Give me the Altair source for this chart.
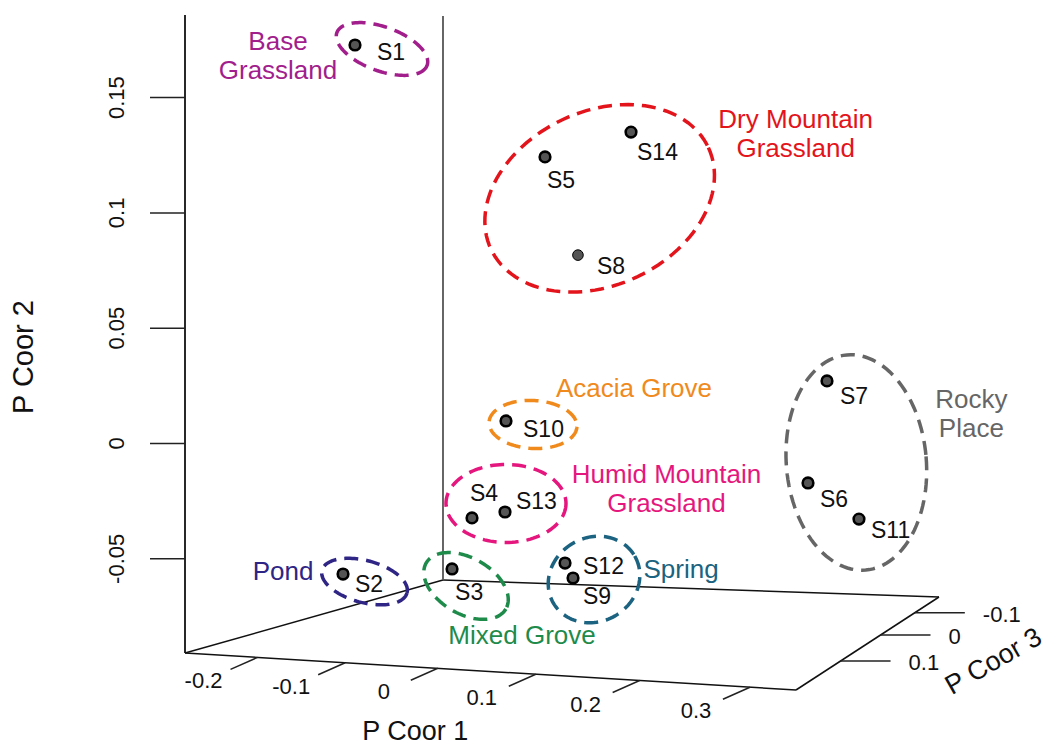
import numpy as np
import pandas as pd
import altair as alt

# ---------------- data ----------------
samples = ["S1", "S2", "S3", "S4", "S5", "S6", "S7", "S8", "S9", "S10", "S11", "S12", "S13", "S14"]
sample_group = ["Base Grassland", "Pond", "Mixed Grove", "Humid Mountain Grassland",
                "Dry Mountain Grassland", "Rocky Place", "Rocky Place", "Dry Mountain Grassland",
                "Spring", "Acacia Grove", "Rocky Place", "Spring", "Humid Mountain Grassland",
                "Dry Mountain Grassland"]
p_coor1 = [-0.2163, -0.1870, -0.1738, -0.0955, -0.0424, 0.3013, 0.2620, -0.0604,
           -0.0022, -0.0689, 0.3034, -0.0509, -0.0987, 0.0183]
p_coor2 = [0.1708, -0.0638, -0.0741, -0.0442, 0.1170, -0.0195, 0.0144, 0.0693,
           -0.0734, -0.0016, -0.0448, -0.0722, -0.0461, 0.1266]
p_coor3 = [0.05, 0.10, -0.05, 0.02, -0.03, 0.08, -0.06, -0.12,
           -0.02, 0.00, -0.04, -0.08, -0.04, -0.10]

group_names = ["Base Grassland", "Dry Mountain Grassland", "Acacia Grove",
               "Humid Mountain Grassland", "Mixed Grove", "Spring", "Pond", "Rocky Place"]
group_text = ["Base\nGrassland", "Dry Mountain\nGrassland", "Acacia Grove",
              "Humid Mountain\nGrassland", "Mixed Grove", "Spring", "Pond", "Rocky\nPlace"]
group_colors = ["#A21E8C", "#E3141B", "#F08A1D", "#E5177E", "#1E8B4B", "#1B6380", "#2E2585", "#666666"]

ticks_p1 = [-0.2, -0.1, 0.0, 0.1, 0.2, 0.3]
ticks_p2 = [-0.05, 0.0, 0.05, 0.1, 0.15]
ticks_p3 = [-0.1, 0.0, 0.1]

# ---------------- 3-D box and view (projection) ----------------
X1_RANGE = (-0.287, 0.340)      # P Coor 1: left -> right
X2_RANGE = (-0.09085, 0.1858)   # P Coor 2: floor -> top
X3_RANGE = (0.195, -0.180)      # P Coor 3: front -> back
VIEW = dict(a=480.43, b=381.66, c=185.0, d=-76.18, e=88.91, f=653.0,
            g=-0.16403, h=0.27915, k=2306.0)


def project(p1, p2, p3):
    p1 = np.asarray(p1, float)
    p2 = np.asarray(p2, float)
    p3 = np.asarray(p3, float)
    s = (p1 - X1_RANGE[0]) / (X1_RANGE[1] - X1_RANGE[0])
    t = (X3_RANGE[0] - p3) / (X3_RANGE[0] - X3_RANGE[1])
    w = 1 + VIEW["g"] * s + VIEW["h"] * t
    u = (VIEW["a"] * s + VIEW["b"] * t + VIEW["c"]) / w
    vf = (VIEW["d"] * s + VIEW["e"] * t + VIEW["f"]) / w
    v = vf - VIEW["k"] * (p2 - X2_RANGE[0]) / np.sqrt(w)
    return u, v


FONT = "Liberation Sans"

# label placement (pixel offsets from the projected point)
LABEL_OFFSET = {"S1": (22, 8), "S2": (12, 11), "S3": (3, 24), "S4": (-2, -24), "S5": (2, 24),
                "S6": (12, 17), "S7": (13, 16), "S8": (19, 12), "S9": (10, 19), "S10": (17, 9),
                "S11": (12, 12), "S12": (18, 4), "S13": (11, -10), "S14": (6, 21)}
# group annotation styling: label offset (first line) from group centroid, ellipse offset / radii / tilt
GROUP_STYLE = {
    "Base Grassland": dict(lab=(-77, -3), ell=(27, 4, 48, 22, 20)),
    "Dry Mountain Grassland": dict(lab=(211, -61), ell=(15, 17, 120, 87, -25)),
    "Acacia Grove": dict(lab=(128, -32), ell=(27, 3.5, 44, 24, 3)),
    "Humid Mountain Grassland": dict(lab=(178, -40), ell=(17.5, -11.5, 60, 39, 0)),
    "Mixed Grove": dict(lab=(70, 67), ell=(14, 17, 46, 28, 30)),
    "Spring": dict(lab=(112, -1), ell=(25, 9, 47, 42, -30)),
    "Pond": dict(lab=(-60, -2), ell=(21.5, 7.5, 44, 21, 15)),
    "Rocky Place": dict(lab=(140, -61), ell=(25, 1.5, 70, 108, -5)),
}

# ---------------- tables ----------------
pts = pd.DataFrame({"sample": samples, "group": sample_group,
                    "p1": p_coor1, "p2": p_coor2, "p3": p_coor3})
pts["u"], pts["v"] = project(pts.p1, pts.p2, pts.p3)
pts["lu"] = [u + LABEL_OFFSET[s][0] for u, s in zip(pts.u, pts["sample"])]
pts["lv"] = [v + LABEL_OFFSET[s][1] for v, s in zip(pts.v, pts["sample"])]

cent = pts.groupby("group")[["u", "v"]].mean()
glab_rows, ell_rows = [], []
for g, txt in zip(group_names, group_text):
    cu, cv = cent.loc[g, "u"], cent.loc[g, "v"]
    st = GROUP_STYLE[g]
    glab_rows.append({"group": g, "text": txt, "u": cu + st["lab"][0], "v": cv + st["lab"][1]})
    ox, oy, rx, ry, ang = st["ell"]
    th = np.radians(ang)
    for i in range(121):
        ph = 2 * np.pi * i / 120
        ell_rows.append({"group": g, "idx": i,
                         "u": cu + ox + rx * np.cos(ph) * np.cos(th) - ry * np.sin(ph) * np.sin(th),
                         "v": cv + oy + rx * np.cos(ph) * np.sin(th) + ry * np.sin(ph) * np.cos(th)})
glab = pd.DataFrame(glab_rows)
ell = pd.DataFrame(ell_rows)

# frame of the box
a1, b1 = X1_RANGE
a2, b2 = X2_RANGE
f3, k3 = X3_RANGE
segs = [((a1, a2, f3), (b1, a2, f3), "#111111", 1.5),
        ((b1, a2, f3), (b1, a2, k3), "#111111", 1.5),
        ((a1, a2, k3), (b1, a2, k3), "#111111", 1.5),
        ((a1, a2, f3), (a1, a2, k3), "#111111", 1.5),
        ((a1, a2, f3), (a1, b2, f3), "#111111", 1.8),
        ((a1, a2, k3), (a1, b2, k3), "#555555", 1.8)]
frame_rows = []
for p, q, col, sw in segs:
    u1, v1 = project(*p)
    u2, v2 = project(*q)
    frame_rows.append({"u": float(u1), "v": float(v1), "u2": float(u2), "v2": float(v2), "col": col, "sw": sw})
frame = pd.DataFrame(frame_rows)

# axis ticks
t1u, t1v = project(ticks_p1, [a2] * len(ticks_p1), [f3] * len(ticks_p1))
tick1 = pd.DataFrame({"u": t1u, "v": t1v, "u2": t1u - 27, "v2": t1v + 12,
                      "lu": t1u - 54, "lv": t1v + 24, "text": [f"{x:g}" for x in ticks_p1]})
t2u, t2v = project([a1] * len(ticks_p2), ticks_p2, [f3] * len(ticks_p2))
tick2 = pd.DataFrame({"u": t2u, "v": t2v, "u2": t2u - 35, "v2": t2v,
                      "lu": t2u - 68, "lv": t2v, "text": [f"{x:g}" for x in ticks_p2]})
t3u, t3v = project([b1] * len(ticks_p3), [a2] * len(ticks_p3), ticks_p3)
tick3 = pd.DataFrame({"u": t3u, "v": t3v, "u2": t3u + 50, "v2": t3v,
                      "lu": t3u + 68, "lv": t3v + 2, "text": [f"{x:g}" for x in ticks_p3]})
ticks = pd.concat([tick1, tick2, tick3], ignore_index=True)

# axis titles anchored on the box edges
m1 = project((a1 + b1) / 2, a2, f3)
m2 = project(a1, (a2 + b2) / 2, f3)
m3 = project(b1, a2, (f3 + k3) / 2)
title1 = pd.DataFrame({"u": [float(m1[0]) - 48], "v": [float(m1[1]) + 62], "text": ["P Coor 1"]})
title2 = pd.DataFrame({"u": [float(m2[0]) - 161], "v": [float(m2[1]) + 23], "text": ["P Coor 2"]})
title3 = pd.DataFrame({"u": [float(m3[0]) + 116], "v": [float(m3[1]) + 25], "text": ["P Coor 3"]})

# ---------------- chart ----------------
XS = alt.Scale(domain=[8, 1051], nice=False, zero=False)
YS = alt.Scale(domain=[745, 8], nice=False, zero=False)


def X(f):
    return alt.X(f"{f}:Q", scale=XS, axis=None)


def Y(f):
    return alt.Y(f"{f}:Q", scale=YS, axis=None)


gcolor = alt.Color("group:N", scale=alt.Scale(domain=group_names, range=group_colors), legend=None)

frame_layer = alt.Chart(frame).mark_rule().encode(
    x=X("u"), y=Y("v"), x2="u2", y2="v2",
    color=alt.Color("col:N", scale=None), strokeWidth=alt.StrokeWidth("sw:Q", scale=None))
tick_layer = alt.Chart(ticks).mark_rule(color="#222222", strokeWidth=1.5).encode(
    x=X("u"), y=Y("v"), x2="u2", y2="v2")
lab1 = alt.Chart(tick1).mark_text(font=FONT, fontSize=22, align="center", baseline="middle", color="#111111").encode(
    x=X("lu"), y=Y("lv"), text="text:N")
lab2 = alt.Chart(tick2).mark_text(font=FONT, fontSize=22, align="center", baseline="middle", angle=270,
                                  color="#111111").encode(x=X("lu"), y=Y("lv"), text="text:N")
lab3 = alt.Chart(tick3).mark_text(font=FONT, fontSize=22, align="left", baseline="middle", color="#111111").encode(
    x=X("lu"), y=Y("lv"), text="text:N")
ttl1 = alt.Chart(title1).mark_text(font=FONT, fontSize=27, align="center", baseline="middle", color="#111111").encode(
    x=X("u"), y=Y("v"), text="text:N")
ttl2 = alt.Chart(title2).mark_text(font=FONT, fontSize=29, align="center", baseline="middle", angle=270,
                                  color="#111111").encode(x=X("u"), y=Y("v"), text="text:N")
ttl3 = alt.Chart(title3).mark_text(font=FONT, fontSize=27, align="center", baseline="middle", angle=330,
                                  color="#111111").encode(x=X("u"), y=Y("v"), text="text:N")

ell_layer = alt.Chart(ell).mark_line(strokeDash=[14, 8], strokeWidth=3.5, strokeCap="butt").encode(
    x=X("u"), y=Y("v"), detail="group:N", order="idx:Q", color=gcolor)

point_layer = alt.Chart(pts).mark_circle(size=113, fill="#555555", stroke="black", opacity=1).encode(
    x=X("u"), y=Y("v"),
    strokeWidth=alt.condition(alt.datum.sample == "S8", alt.value(1), alt.value(2.6)))
plabel_layer = alt.Chart(pts).mark_text(font=FONT, fontSize=23, align="left", baseline="middle",
                                        color="#111111").encode(x=X("lu"), y=Y("lv"), text="sample:N")
glabel_layer = alt.Chart(glab).mark_text(font=FONT, fontSize=26, align="center", baseline="middle",
                                         lineBreak="\n", lineHeight=29).encode(
    x=X("u"), y=Y("v"), text="text:N", color=gcolor)

chart = alt.layer(frame_layer, tick_layer, lab1, lab2, lab3, ttl1, ttl2, ttl3,
                  ell_layer, point_layer, plabel_layer, glabel_layer).properties(
    width=1043, height=737, autosize=alt.AutoSizeParams(type="none"), padding=0,
    background="white").configure_view(stroke=None)

chart.save("out.html", embed_options={"renderer": "svg", "actions": False})
